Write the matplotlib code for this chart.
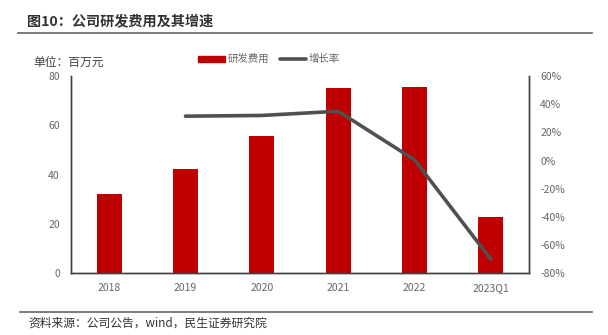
import matplotlib
matplotlib.use("Agg")
import matplotlib.pyplot as plt
from matplotlib.patches import Rectangle
from matplotlib.lines import Line2D
from matplotlib.ticker import FuncFormatter

plt.rcParams['font.family'] = ['Noto Sans CJK SC', 'DejaVu Sans']

categories = ["2018", "2019", "2020", "2021", "2022", "2023Q1"]
rd_expense = [32.1, 42.2, 55.6, 75.1, 75.5, 22.8]
growth_years = ["2019", "2020", "2021", "2022", "2023Q1"]
growth_rate = [31.5, 32.0, 35.0, 0.5, -70.0]

fig = plt.figure(figsize=(6.08, 3.35), dpi=100)
ax = fig.add_axes([71/608, 1-273.3/335, (529-71)/608, (273.3-76)/335])
ax2 = ax.twinx()

x = list(range(len(categories)))
ax.bar(x, rd_expense, width=0.33, color="#C00000", zorder=2)
gx = [categories.index(c) for c in growth_years]
ax2.plot(gx, growth_rate, color="#505050", lw=2.6, solid_capstyle="round", zorder=3)

ax.set_xlim(-0.5, len(categories)-0.5)
ax.set_ylim(0, 80)
ax.set_yticks([0, 20, 40, 60, 80])
ax2.set_ylim(-80, 60)
ax2.set_yticks(list(range(-80, 61, 20)))
ax2.yaxis.set_major_formatter(FuncFormatter(lambda v, p: f"{int(v)}%"))
ax.set_xticks(x)
ax.set_xticklabels(categories)

for a in (ax, ax2):
    a.tick_params(length=0, labelsize=7.5, labelcolor="#666666")
    a.spines['top'].set_visible(False)
    for s in ('left', 'right', 'bottom'):
        a.spines[s].set_color("#404040")
        a.spines[s].set_linewidth(1.0)
ax.tick_params(axis='y', pad=8)
ax2.tick_params(axis='y', pad=8)
ax.tick_params(axis='x', pad=7)
ax.set_zorder(1)
ax2.set_zorder(2)
ax2.patch.set_visible(False)

# Title and rules
fig.text(27/608, 1-21/335, "图10：公司研发费用及其增速", fontsize=10.2, fontweight="bold",
         color="#333333", va="center", ha="left")
fig.add_artist(Line2D([18/608, 592/608], [1-33/335, 1-33/335], color="#666666", lw=1.2))
fig.add_artist(Line2D([20/608, 592/608], [1-312/335, 1-312/335], color="#666666", lw=1.2))
fig.text(28/608, 1-323/335, "资料来源：公司公告，wind，民生证券研究院", fontsize=8.5,
         color="#333333", va="center", ha="left")

# Unit
fig.text(33/608, 1-62/335, "单位：百万元", fontsize=8.5, color="#404040", va="center", ha="left")

# Legend
ly = 1-59/335
fig.add_artist(Rectangle((198/608, ly-3/335), 27/608, 6/335, color="#C00000"))
fig.text(228/608, ly, "研发费用", fontsize=7.5, color="#666666", va="center", ha="left")
fig.add_artist(Line2D([280/608, 306/608], [ly, ly], color="#505050", lw=2.6, solid_capstyle="round"))
fig.text(309/608, ly, "增长率", fontsize=7.5, color="#666666", va="center", ha="left")

fig.savefig("out.png", dpi=100)
